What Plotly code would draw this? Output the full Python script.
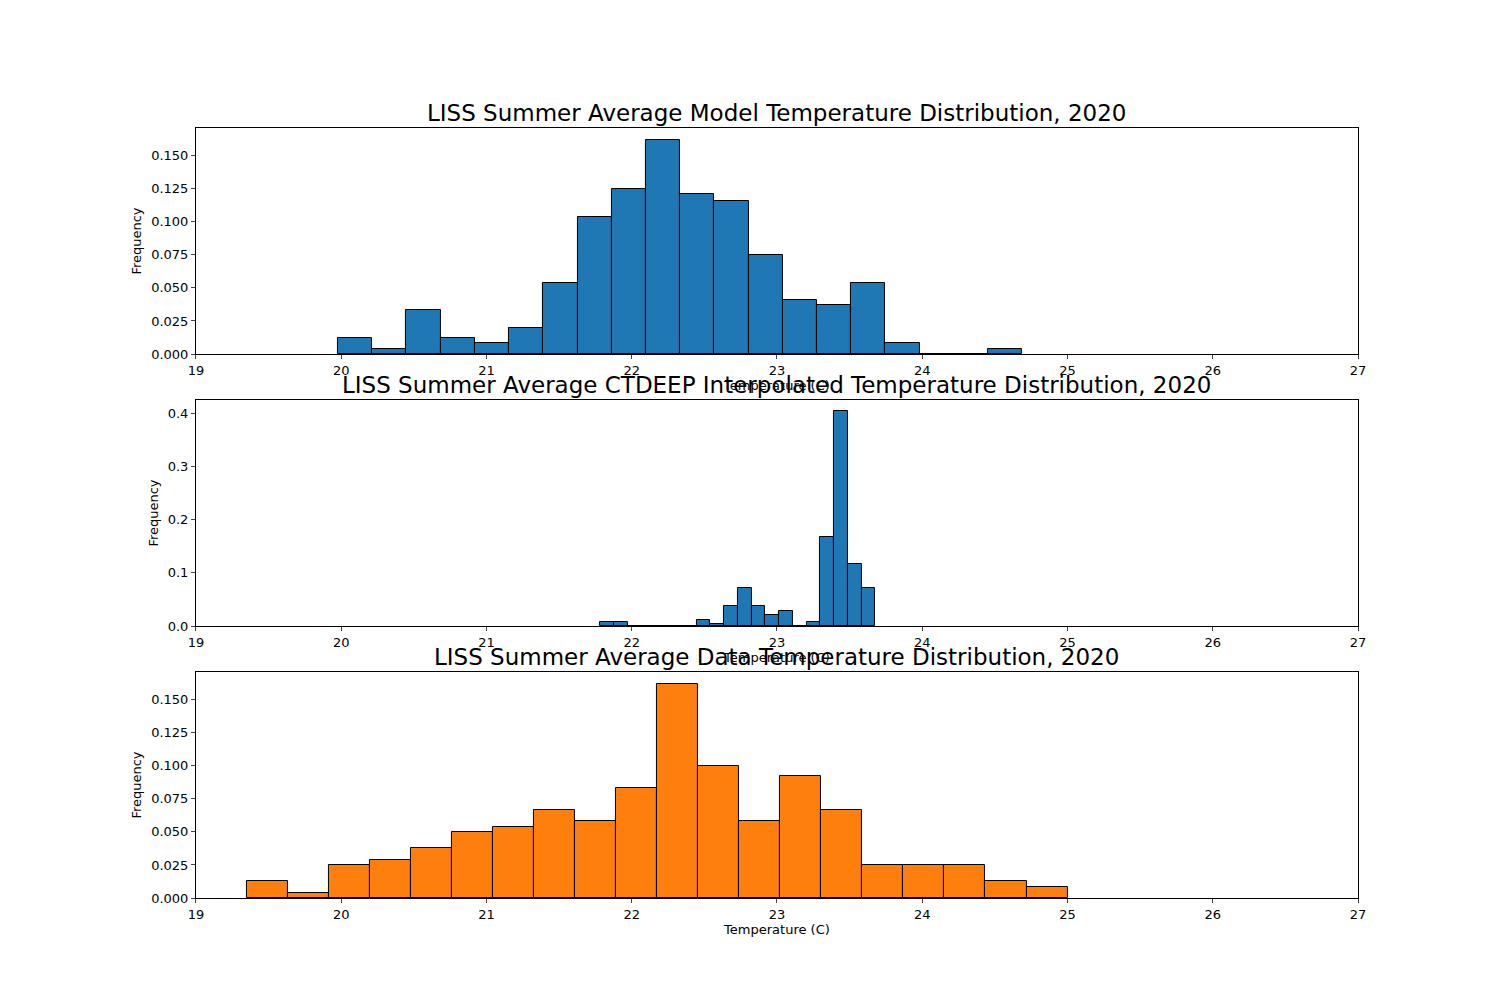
import numpy as np
import plotly.graph_objects as go

model_start, model_width = 19.978, 0.2355
model_freq = [0.012,0.004,0.033,0.012,0.008,0.020,0.054,0.104,0.125,0.162,0.121,0.116,0.075,0.041,0.037,0.054,0.008,0,0,0.004]
ctd_start, ctd_width = 21.783, 0.0947
ctd_freq = [0.008,0.008,0,0,0,0,0,0.012,0.004,0.038,0.072,0.038,0.021,0.029,0,0.008,0.167,0.405,0.117,0.072]
data_start, data_width = 19.35, 0.2825
data_freq = [0.0125,0.004,0.025,0.029,0.0375,0.05,0.054,0.0665,0.058,0.083,0.162,0.1,0.058,0.092,0.0665,0.025,0.025,0.025,0.0125,0.008]

titles = ["LISS Summer Average Model Temperature Distribution, 2020",
          "LISS Summer Average CTDEEP Interpolated Temperature Distribution, 2020",
          "LISS Summer Average Data Temperature Distribution, 2020"]
panels = [(model_start, model_width, model_freq, "#1f77b4", [0,0.025,0.05,0.075,0.1,0.125,0.15], "%.3f", 0.171),
          (ctd_start, ctd_width, ctd_freq, "#1f77b4", [0,0.1,0.2,0.3,0.4], "%.1f", 0.425),
          (data_start, data_width, data_freq, "#ff7f0e", [0,0.025,0.05,0.075,0.1,0.125,0.15], "%.3f", 0.171)]
domains = [(0.654, 0.88), (0.382, 0.608), (0.11, 0.336)]

fig = go.Figure()
for i, (s, w, f, c, yt, fmt, ymax) in enumerate(panels):
    n = i + 1
    lefts = s + w * np.arange(len(f))
    fig.add_trace(go.Bar(x=lefts + w/2, y=f, width=w, marker=dict(color=c, line=dict(color="black", width=1)),
                         xaxis=f"x{n}", yaxis=f"y{n}", showlegend=False))
    ax = dict(domain=[0.1253, 0.9], range=[19, 27], tickvals=list(range(19, 28)), showline=True, mirror=True,
              linecolor="black", ticks="outside", ticklen=4, showgrid=False, zeroline=False, automargin=False,
              anchor=f"y{n}", title=dict(text="Temperature (C)", font=dict(size=13), standoff=2),
              tickfont=dict(size=13))
    ay = dict(domain=list(domains[i]), range=[0, ymax], tickvals=yt, ticktext=[fmt % v for v in yt],
              showline=True, mirror=True, linecolor="black", ticks="outside", ticklen=4, showgrid=False,
              zeroline=False, automargin=False, anchor=f"x{n}", title=dict(text="Frequency", font=dict(size=13), standoff=6),
              tickfont=dict(size=13))
    fig.layout[f"xaxis{n}"] = ax
    fig.layout[f"yaxis{n}"] = ay
    fig.add_annotation(text=titles[i], x=0.5125, xref="paper", y=domains[i][1], yref="paper",
                       yanchor="bottom", yshift=0, showarrow=False, font=dict(size=23, color="black"))

fig.update_layout(width=1500, height=1000, margin=dict(l=0, r=0, t=0, b=0), bargap=0,
                  plot_bgcolor="white", paper_bgcolor="white",
                  font=dict(family="DejaVu Sans", color="black"))
fig.write_html("out.html")
